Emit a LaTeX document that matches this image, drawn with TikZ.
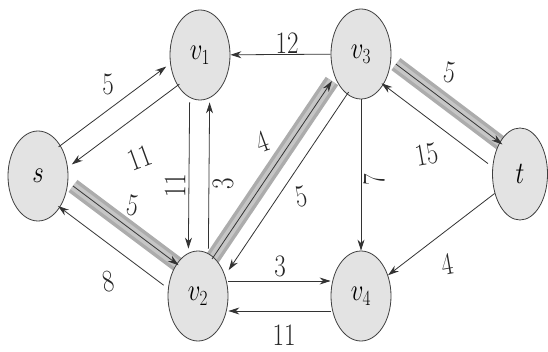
\documentclass[tikz,border=0pt]{standalone}
\usepackage{graphicx}
\usetikzlibrary{shapes.geometric,arrows.meta}
\newcommand{\stx}[1]{\scalebox{1}[1.25]{#1}}
\newcommand{\vn}[1]{\stx{$v_{#1}$}}
\tikzset{
  vert/.style={ellipse, draw=black!75, line width=0.8pt, fill=gray!22,
    minimum width=60pt, minimum height=90pt, inner sep=0pt,
    font=\fontsize{24}{26}\selectfont},
  arr/.style={draw=black!80, line width=0.8pt, -{Stealth[length=11pt,width=7pt]}},
  wlbl/.style={font=\fontsize{25}{27}\selectfont, inner sep=1pt, text=black!85}
}
\newcommand{\band}[4]{%
  \path (#1) -- (#2) coordinate[pos=0] (#4a) coordinate[pos=1] (#4b);
  \draw[gray!65, line width=15pt] ([shift={#3}]#4a) -- ([shift={#3}]#4b);
  \draw[gray!45, line width=8pt] ([shift={#3}]#4a) -- ([shift={#3}]#4b);}
\begin{document}
\begin{tikzpicture}[x=1pt,y=-1pt]
\useasboundingbox (0,0) rectangle (548,352);
\fill[white] (0,0) rectangle (548,352);
\path (38,176) coordinate (cs) (200,55) coordinate (cv1) (361,54) coordinate (cv3)
      (520,174) coordinate (ct) (198,296) coordinate (cv2) (361,296) coordinate (cv4);
% invisible node outlines used to place the bands
\node[vert, draw=none, fill=none] (s)  at (cs)  {};
\node[vert, draw=none, fill=none] (v2) at (cv2) {};
\node[vert, draw=none, fill=none] (v3) at (cv3) {};
\node[vert, draw=none, fill=none, minimum width=55pt, minimum height=92pt] (t) at (ct) {};
% highlighted bands
\band{v2}{v3}{(-7.5,-5)}{bA}
\band{v3}{t}{(7.8,-10.4)}{bB}
\band{s}{v2}{(7.8,-10.4)}{bC}
% nodes
\node[vert] (s)  at (cs)  {\stx{$s$}};
\node[vert] (v1) at (cv1)  {\vn{1}};
\node[vert] (v3) at (cv3)  {\vn{3}};
\node[vert, minimum width=55pt, minimum height=92pt] (t) at (ct) {\stx{$t$}};
\node[vert] (v2) at (cv2) {\vn{2}};
\node[vert] (v4) at (cv4) {\vn{4}};
% arrows
\draw[arr, transform canvas={shift={(-6.6,-8.8)}}] (s) -- (v1);
\draw[arr, transform canvas={shift={(6.6,8.8)}}] (v1) -- (s);
\draw[arr, shorten <=2pt, shorten >=2pt, transform canvas={shift={(-10,0)}}] (v1) -- (v2);
\draw[arr, shorten <=2pt, shorten >=2pt, transform canvas={shift={(10,0)}}] (v2) -- (v1);
\draw[arr] (v3) -- (v1);
\draw[arr, transform canvas={shift={(-7.5,-5)}}] (v2) -- (v3);
\draw[arr, transform canvas={shift={(9.1,6.1)}}] (v3) -- (v2);
\draw[arr, transform canvas={shift={(7.8,-10.4)}}] (v3) -- (t);
\draw[arr, transform canvas={shift={(-6.6,8.8)}}] (t) -- (v3);
\draw[arr] (v3) -- (v4);
\draw[arr] (t) -- (v4);
\draw[arr, transform canvas={shift={(7.8,-10.4)}}] (s) -- (v2);
\draw[arr, transform canvas={shift={(-7.2,9.6)}}] (v2) -- (s);
\draw[arr, transform canvas={shift={(0,-15)}}] (v2) -- (v4);
\draw[arr, transform canvas={shift={(0,15)}}] (v4) -- (v2);
% weights
\node[wlbl] (w1) at (108,84) {\stx{5}};
\node[wlbl, rotate=20] (w2) at (140,158) {\stx{11}};
\node[wlbl, rotate=90] (w3) at (175,186) {\stx{11}};
\node[wlbl, rotate=90] (w4) at (223,184) {\stx{3}};
\node[wlbl] (w5) at (287,43) {\stx{12}};
\node[wlbl, rotate=20] (w6) at (262,142) {\stx{4}};
\node[wlbl, rotate=10] (w7) at (301,197) {\stx{5}};
\node[wlbl, rotate=-10] (w8) at (450,73) {\stx{5}};
\node[wlbl, rotate=10] (w9) at (427,155) {\stx{15}};
\node[wlbl, rotate=90] (w10) at (374,180) {\stx{7}};
\node[wlbl, rotate=10] (w11) at (447,264) {\stx{4}};
\node[wlbl, rotate=-10] (w12) at (133,206) {\stx{5}};
\node[wlbl, rotate=10] (w13) at (108,282) {\stx{8}};
\node[wlbl] (w14) at (280,266) {\stx{3}};
\node[wlbl] (w15) at (284,335) {\stx{11}};
\end{tikzpicture}
\end{document}
